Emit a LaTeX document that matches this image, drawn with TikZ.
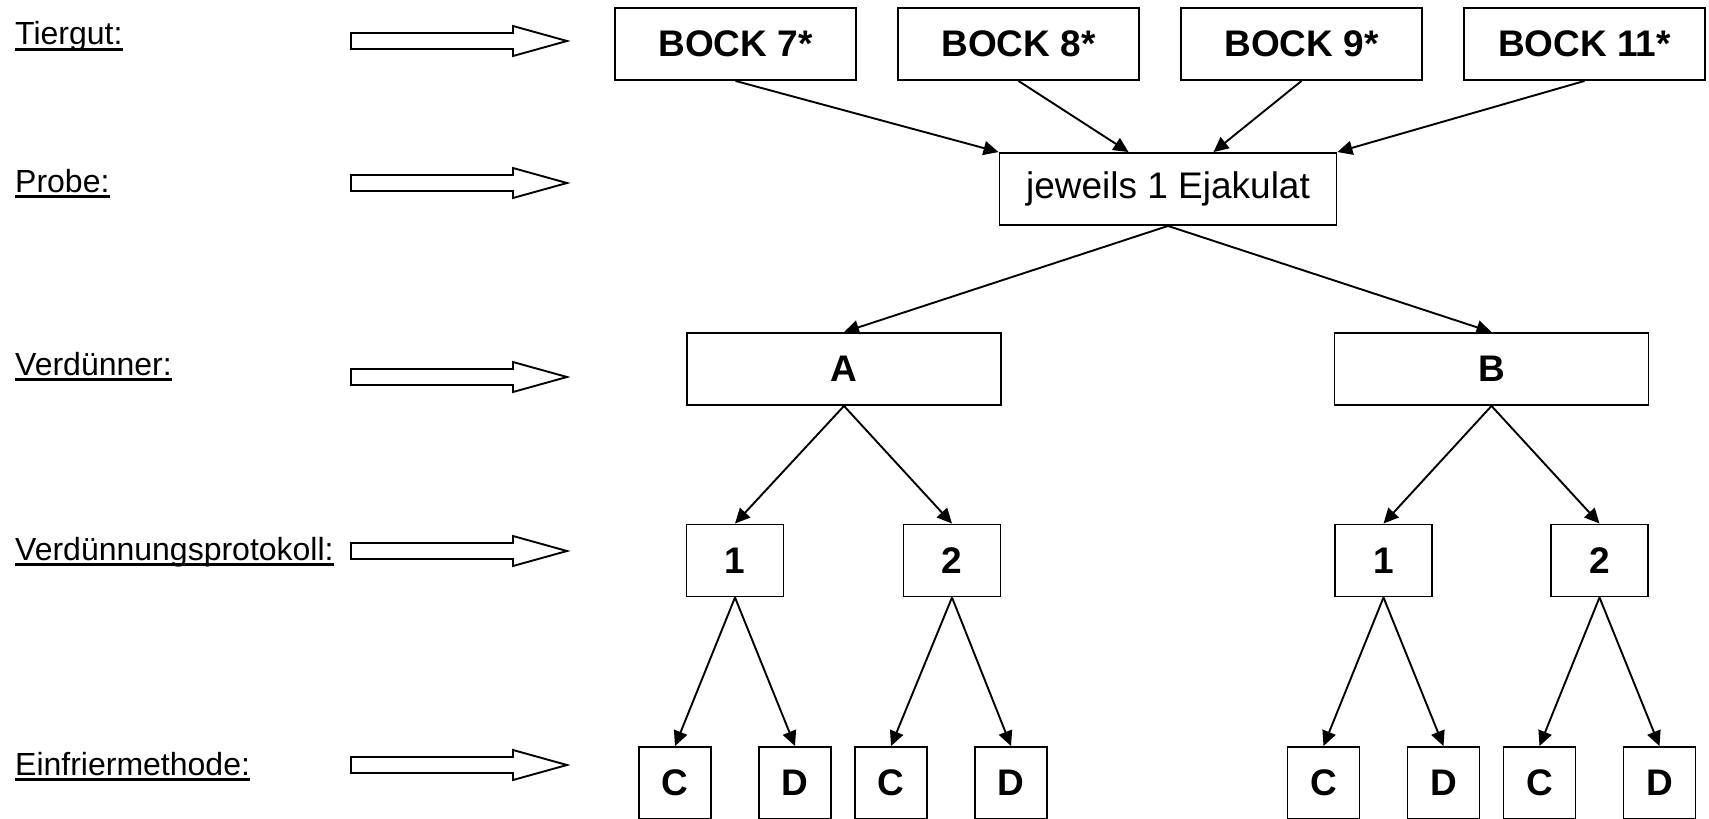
\documentclass[tikz,border=0pt]{standalone}
\usepackage{fontspec}
\setmainfont{Liberation Sans}
\usetikzlibrary{arrows.meta}

\tikzset{
  lbl/.style={anchor=base west, inner sep=0pt, font=\fontsize{32}{38}\selectfont},
  box/.style={draw, line width=1.9pt, minimum height=72pt, inner sep=0pt,
    font=\bfseries\fontsize{37}{44}\selectfont},
  conn/.style={line width=1.9pt, -{Triangle[length=15pt,width=14pt]}},
  hollow/.style={line width=1.9pt, line join=miter},
  uline/.style={line width=3pt}
}

\begin{document}
\begin{tikzpicture}[x=1pt,y=-1pt] % Versuchsaufbau
        \useasboundingbox (0,0) rectangle (1709,819);
        % Beschriftung links
        \node[lbl] (tiergut) at (15,45) {Tiergut:};
        \node[lbl] (probe) at (15,192) {Probe:};
        \node[lbl] (verd) at (15,375) {Verdünner:};
        \node[lbl] (prot) at (15,560) {Verdünnungsprotokoll:};
        \node[lbl] (einfr) at (15,775) {Einfriermethode:};
        \foreach \l in {tiergut,probe,verd,prot,einfr}
                \draw[uline] ([yshift=-4.5pt]\l.base west) -- ([yshift=-4.5pt]\l.base east);
        % Blockpfeile
        \draw[hollow](351,33)--(513,33)--(513,26)--(567,41)--(513,56)--(513,49)--(351,49)--cycle;
        \draw[hollow](351,175)--(513,175)--(513,168)--(567,183)--(513,198)--(513,191)--(351,191)--cycle;
        \draw[hollow](351,369)--(513,369)--(513,362)--(567,377)--(513,392)--(513,385)--(351,385)--cycle;
        \draw[hollow](351,543)--(513,543)--(513,536)--(567,551)--(513,566)--(513,559)--(351,559)--cycle;
        \draw[hollow](351,757)--(513,757)--(513,750)--(567,765)--(513,780)--(513,773)--(351,773)--cycle;
        % Tiergut
        \node[box, minimum width=241pt] (b7) at (735.5,44) {BOCK 7*};
        \node[box, minimum width=241pt] (b8) at (1018.5,44) {BOCK 8*};
        \node[box, minimum width=241pt] (b9) at (1301.5,44) {BOCK 9*};
        \node[box, minimum width=241pt] (b11) at (1584.5,44) {BOCK 11*};
        % Probe
        \node[box, minimum width=337pt, font=\fontsize{37}{44}\selectfont] (ejak) at (1168,189) {jeweils 1 Ejakulat};
        \draw[conn] (b7.south) -- (ejak.north west);
        \draw[conn] (b8.south) -- ([xshift=130pt]ejak.north west);
        \draw[conn] (b9.south) -- ([xshift=-124pt]ejak.north east);
        \draw[conn] (b11.south) -- (ejak.north east);
        % Verdünner
        \node[box, minimum width=314pt] (vA) at (844,369) {A};
        \node[box, minimum width=314pt] (vB) at (1491.5,369) {B};
        \draw[conn] (ejak.south) -- (vA.north);
        \draw[conn] (ejak.south) -- (vB.north);
        % Verdünnungsprotokoll
        \node[box, minimum width=97pt] (A1) at (735,560.5) {1};
        \node[box, minimum width=97pt] (A2) at (952,560.5) {2};
        \node[box, minimum width=97pt] (B1) at (1383.5,560.5) {1};
        \node[box, minimum width=97pt] (B2) at (1599.5,560.5) {2};
        \draw[conn] (vA.south) -- (A1.north);
        \draw[conn] (vA.south) -- (A2.north);
        \draw[conn] (vB.south) -- (B1.north);
        \draw[conn] (vB.south) -- (B2.north);
        % Einfriermethode
        \node[box, minimum width=72pt] (A1C) at (675,783) {C};
        \node[box, minimum width=72pt] (A1D) at (795,783) {D};
        \node[box, minimum width=72pt] (A2C) at (891,783) {C};
        \node[box, minimum width=72pt] (A2D) at (1011,783) {D};
        \node[box, minimum width=72pt] (B1C) at (1323.5,783) {C};
        \node[box, minimum width=72pt] (B1D) at (1443.5,783) {D};
        \node[box, minimum width=72pt] (B2C) at (1539.5,783) {C};
        \node[box, minimum width=72pt] (B2D) at (1659.5,783) {D};
        \draw[conn] (A1.south) -- (A1C.north);
        \draw[conn] (A1.south) -- (A1D.north);
        \draw[conn] (A2.south) -- (A2C.north);
        \draw[conn] (A2.south) -- (A2D.north);
        \draw[conn] (B1.south) -- (B1C.north);
        \draw[conn] (B1.south) -- (B1D.north);
        \draw[conn] (B2.south) -- (B2C.north);
        \draw[conn] (B2.south) -- (B2D.north);
\end{tikzpicture}
\end{document}
